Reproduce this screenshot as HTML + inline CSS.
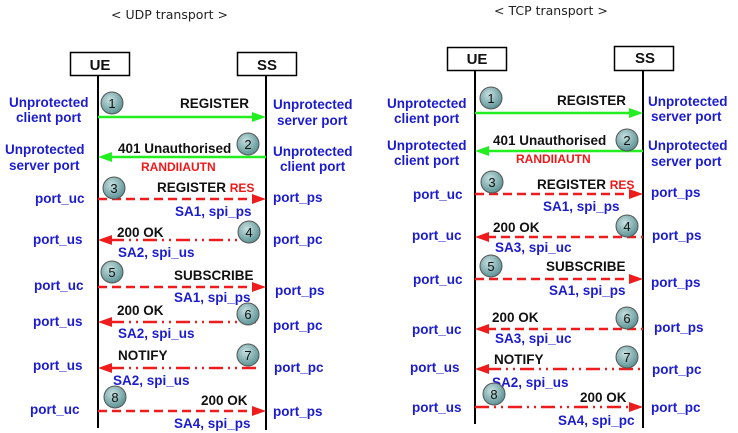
<!DOCTYPE html>
<html><head><meta charset="utf-8"><style>
html,body{margin:0;padding:0;background:#fff;}
svg{display:block;}
text{font-family:"Liberation Sans",Arial,sans-serif;font-weight:bold;font-size:13.5px;}
.b{fill:#1c1ccf;}
.k{fill:#111;}
.r{fill:#f01818;}
.t{font-family:"DejaVu Sans",sans-serif;font-weight:normal;font-size:12.5px;fill:#222;}
.n{font-weight:normal;font-size:13px;fill:#111;text-anchor:middle;}
.ll{stroke:#000;stroke-width:2;}
.g{stroke:#22ee22;stroke-width:2.5;}
.d{stroke:#ee1c1c;stroke-width:2.5;stroke-dasharray:9,5;}
.dd{stroke:#ee1c1c;stroke-width:2.5;stroke-dasharray:14,5,2,5,2,5;}
</style></head><body>
<svg width="738" height="433" viewBox="0 0 738 433" xmlns="http://www.w3.org/2000/svg">
<defs>
<radialGradient id="cg" cx="40%" cy="35%" r="65%">
<stop offset="0" stop-color="#c8e0e0"/><stop offset="1" stop-color="#5d9496"/>
</radialGradient>
</defs>
<rect width="738" height="433" fill="#fff"/>
<text class="t" x="111" y="19">&lt; UDP transport &gt;</text>
<text class="t" x="494" y="15">&lt; TCP transport &gt;</text>

<!-- LEFT DIAGRAM -->
<rect x="70.5" y="52.5" width="59" height="23" fill="#fff" stroke="#000" stroke-width="1.5"/>
<rect x="237.5" y="52.5" width="59" height="23" fill="#fff" stroke="#000" stroke-width="1.5"/>
<text x="100" y="70" text-anchor="middle" class="k" style="font-size:15px">UE</text>
<text x="267" y="70" text-anchor="middle" class="k" style="font-size:15px">SS</text>
<line class="ll" x1="98" y1="75" x2="98" y2="428"/>
<line class="ll" x1="266" y1="75" x2="266" y2="430"/>

<line class="g" x1="98" y1="117" x2="254" y2="117"/><polygon points="266,117 252,112 252,122" fill="#22ee22"/>
<text class="k" x="180" y="108">REGISTER</text>
<text class="b" x="9" y="107">Unprotected</text><text class="b" x="16" y="122">client port</text>
<text class="b" x="273" y="109">Unprotected</text><text class="b" x="277" y="125">server port</text>

<line class="g" x1="110" y1="157" x2="266" y2="157"/><polygon points="98,157 112,152 112,162" fill="#22ee22"/>
<text class="k" x="118" y="153">401 Unauthorised</text>
<text class="r" x="141" y="171" style="font-size:12px">RANDIIAUTN</text>
<text class="b" x="5" y="154">Unprotected</text><text class="b" x="9" y="170">server port</text>
<text class="b" x="273" y="156">Unprotected</text><text class="b" x="280" y="171">client port</text>

<line class="d" x1="98" y1="199" x2="254" y2="199"/><polygon points="266,199 252,194 252,204" fill="#ee1c1c"/>
<text class="k" x="157" y="192">REGISTER <tspan class="r" style="font-size:12px">RES</tspan></text>
<text class="b" x="175" y="216">SA1, spi_ps</text>
<text class="b" x="35" y="203">port_uc</text><text class="b" x="273" y="202">port_ps</text>

<line class="dd" x1="110" y1="240" x2="257" y2="240"/><polygon points="98,240 112,235 112,245" fill="#ee1c1c"/>
<text class="k" x="117" y="237">200 OK</text>
<text class="b" x="118" y="257">SA2, spi_us</text>
<text class="b" x="33" y="244">port_us</text><text class="b" x="273" y="244">port_pc</text>

<line class="d" x1="98" y1="287" x2="254" y2="287"/><polygon points="266,287 252,282 252,292" fill="#ee1c1c"/>
<text class="k" x="174" y="280">SUBSCRIBE</text>
<text class="b" x="174" y="302">SA1, spi_ps</text>
<text class="b" x="34" y="290">port_uc</text><text class="b" x="275" y="295">port_ps</text>

<line class="dd" x1="110" y1="322" x2="257" y2="322"/><polygon points="98,322 112,317 112,327" fill="#ee1c1c"/>
<text class="k" x="117" y="315">200 OK</text>
<text class="b" x="118" y="338">SA2, spi_us</text>
<text class="b" x="33" y="326">port_us</text><text class="b" x="273" y="330">port_pc</text>

<line class="dd" x1="110" y1="368" x2="257" y2="368"/><polygon points="98,368 112,363 112,373" fill="#ee1c1c"/>
<text class="k" x="118" y="360">NOTIFY</text>
<text class="b" x="113" y="385">SA2, spi_us</text>
<text class="b" x="33" y="370">port_us</text><text class="b" x="274" y="372">port_pc</text>

<line class="d" x1="98" y1="411" x2="254" y2="411"/><polygon points="266,411 252,406 252,416" fill="#ee1c1c"/>
<text class="k" x="201" y="405">200 OK</text>
<text class="b" x="174" y="428">SA4, spi_ps</text>
<text class="b" x="30" y="414">port_uc</text><text class="b" x="273" y="416">port_ps</text>

<!-- RIGHT DIAGRAM -->
<rect x="447.5" y="47.5" width="59" height="23" fill="#fff" stroke="#000" stroke-width="1.5"/>
<rect x="614.5" y="46.5" width="59" height="24" fill="#fff" stroke="#000" stroke-width="1.5"/>
<text x="477" y="64" text-anchor="middle" class="k" style="font-size:15px">UE</text>
<text x="645" y="63" text-anchor="middle" class="k" style="font-size:15px">SS</text>
<line class="ll" x1="475" y1="70" x2="475" y2="424"/>
<line class="ll" x1="643" y1="70" x2="643" y2="428"/>

<line class="g" x1="475" y1="113" x2="631" y2="113"/><polygon points="643,113 629,108 629,118" fill="#22ee22"/>
<text class="k" x="557" y="105">REGISTER</text>
<text class="b" x="387" y="108">Unprotected</text><text class="b" x="394" y="123">client port</text>
<text class="b" x="648" y="106">Unprotected</text><text class="b" x="651" y="121">server port</text>

<line class="g" x1="487" y1="151" x2="643" y2="151"/><polygon points="475,151 489,146 489,156" fill="#22ee22"/>
<text class="k" x="493" y="145">401 Unauthorised</text>
<text class="r" x="516" y="163" style="font-size:12px">RANDIIAUTN</text>
<text class="b" x="387" y="150">Unprotected</text><text class="b" x="394" y="165">client port</text>
<text class="b" x="648" y="150">Unprotected</text><text class="b" x="651" y="166">server port</text>

<line class="d" x1="475" y1="194" x2="631" y2="194"/><polygon points="643,194 629,189 629,199" fill="#ee1c1c"/>
<text class="k" x="537" y="189">REGISTER <tspan class="r" style="font-size:12px">RES</tspan></text>
<text class="b" x="543" y="211">SA1, spi_ps</text>
<text class="b" x="413" y="199">port_uc</text><text class="b" x="651" y="197">port_ps</text>

<line class="d" x1="487" y1="237" x2="643" y2="237"/><polygon points="475,237 489,232 489,242" fill="#ee1c1c"/>
<text class="k" x="493" y="232">200 OK</text>
<text class="b" x="495" y="252">SA3, spi_uc</text>
<text class="b" x="412" y="240">port_uc</text><text class="b" x="652" y="240">port_ps</text>

<line class="d" x1="475" y1="279" x2="631" y2="279"/><polygon points="643,279 629,274 629,284" fill="#ee1c1c"/>
<text class="k" x="546" y="271">SUBSCRIBE</text>
<text class="b" x="549" y="295">SA1, spi_ps</text>
<text class="b" x="413" y="284">port_uc</text><text class="b" x="651" y="287">port_ps</text>

<line class="d" x1="487" y1="329" x2="643" y2="329"/><polygon points="475,329 489,324 489,334" fill="#ee1c1c"/>
<text class="k" x="492" y="322">200 OK</text>
<text class="b" x="495" y="343">SA3, spi_uc</text>
<text class="b" x="412" y="334">port_uc</text><text class="b" x="654" y="332">port_ps</text>

<line class="dd" x1="487" y1="369" x2="643" y2="369"/><polygon points="475,369 489,364 489,374" fill="#ee1c1c"/>
<text class="k" x="494" y="364">NOTIFY</text>
<text class="b" x="492" y="387">SA2, spi_us</text>
<text class="b" x="410" y="372">port_us</text><text class="b" x="652" y="374">port_pc</text>

<line class="dd" x1="475" y1="407" x2="631" y2="407"/><polygon points="643,407 629,402 629,412" fill="#ee1c1c"/>
<text class="k" x="580" y="402">200 OK</text>
<text class="b" x="558" y="425">SA4, spi_pc</text>
<text class="b" x="412" y="412">port_us</text><text class="b" x="651" y="412">port_pc</text>

<g stroke="#555" stroke-width="1" fill="url(#cg)">
<circle cx="112" cy="103" r="11"/><circle cx="248" cy="144" r="11"/>
<circle cx="114" cy="188" r="11"/><circle cx="249" cy="232" r="11"/>
<circle cx="112" cy="272" r="11"/><circle cx="248" cy="314" r="11"/>
<circle cx="248" cy="355" r="11"/><circle cx="115" cy="397" r="11"/>
<circle cx="491" cy="98" r="11"/><circle cx="627" cy="140" r="11"/>
<circle cx="492" cy="182" r="11"/><circle cx="627" cy="226" r="11"/>
<circle cx="491" cy="266" r="11"/><circle cx="627" cy="318" r="11"/>
<circle cx="627" cy="357" r="11"/><circle cx="494" cy="394" r="11"/>
</g>
<g>
<text class="n" x="112" y="108">1</text><text class="n" x="248" y="149">2</text>
<text class="n" x="114" y="193">3</text><text class="n" x="249" y="237">4</text>
<text class="n" x="112" y="277">5</text><text class="n" x="248" y="319">6</text>
<text class="n" x="248" y="360">7</text><text class="n" x="115" y="402">8</text>
<text class="n" x="491" y="103">1</text><text class="n" x="627" y="145">2</text>
<text class="n" x="492" y="187">3</text><text class="n" x="627" y="231">4</text>
<text class="n" x="491" y="271">5</text><text class="n" x="627" y="323">6</text>
<text class="n" x="627" y="362">7</text><text class="n" x="494" y="399">8</text>
</g>
</svg>
</body></html>
